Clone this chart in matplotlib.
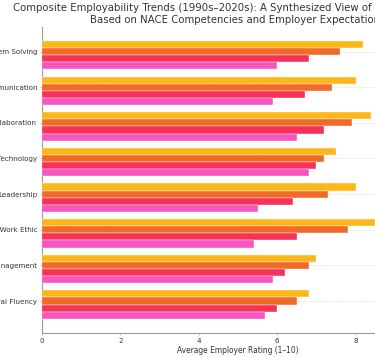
import numpy as np
import matplotlib
matplotlib.use("Agg")
import matplotlib.pyplot as plt

categories = [
    "Critical Thinking/Problem Solving",
    "Oral/Written Communication",
    "Teamwork/Collaboration",
    "Digital Technology",
    "Leadership",
    "Professionalism/Work Ethic",
    "Career Management",
    "Global/Intercultural Fluency",
]
eras = ["2020s", "2010s", "2000s", "1990s"]
vals_2020s = [8.2, 8.0, 8.4, 7.5, 8.0, 8.5, 7.0, 6.8]
vals_2010s = [7.6, 7.4, 7.9, 7.2, 7.3, 7.8, 6.8, 6.5]
vals_2000s = [6.8, 6.7, 7.2, 7.0, 6.4, 6.5, 6.2, 6.0]
vals_1990s = [6.0, 5.9, 6.5, 6.8, 5.5, 5.4, 5.9, 5.7]
series = [vals_2020s, vals_2010s, vals_2000s, vals_1990s]
colors = ["#FFAE00", "#F05A13", "#F61C46", "#F744B9"]

title = ("Composite Employability Trends (1990s\u20132020s): A Synthesized View of Future Graduates\n"
         "Based on NACE Competencies and Employer Expectations")

fig = plt.figure(figsize=(7.5, 7.14), dpi=50)
ax = fig.add_axes([0.112, 0.068, 1.0453, 0.8563])

y = np.arange(len(categories))
h = 0.2
for i, (vals, col, era) in enumerate(zip(series, colors, eras)):
    ax.barh(y + (i - 1) * h, vals, height=h, color=col, alpha=0.9,
            edgecolor="white", linewidth=0.6, label=era, zorder=3)

ax.set_yticks(y)
ax.set_yticklabels(categories)
ax.invert_yaxis()
ax.set_xlim(0, 10)
ax.set_xticks([0, 2, 4, 6, 8, 10])
ax.grid(axis="y", linestyle=":", color="#cccccc", linewidth=1.0, zorder=0)
ax.set_axisbelow(True)

for s in ["top", "right"]:
    ax.spines[s].set_visible(False)
for s in ["left", "bottom"]:
    ax.spines[s].set_color("#999999")
    ax.spines[s].set_linewidth(1.6)
ax.tick_params(colors="#999999", labelcolor="#333333", labelsize=10.2)

ax.set_xlabel("Average Employer Rating (1\u201310)", color="#333333", fontsize=10.8)
ax.set_title(title, color="#333333", fontsize=14.5)
ax.legend(title="Era", loc="upper left", bbox_to_anchor=(1.01, 1), frameon=False)

fig.savefig("out.png", dpi=50)
